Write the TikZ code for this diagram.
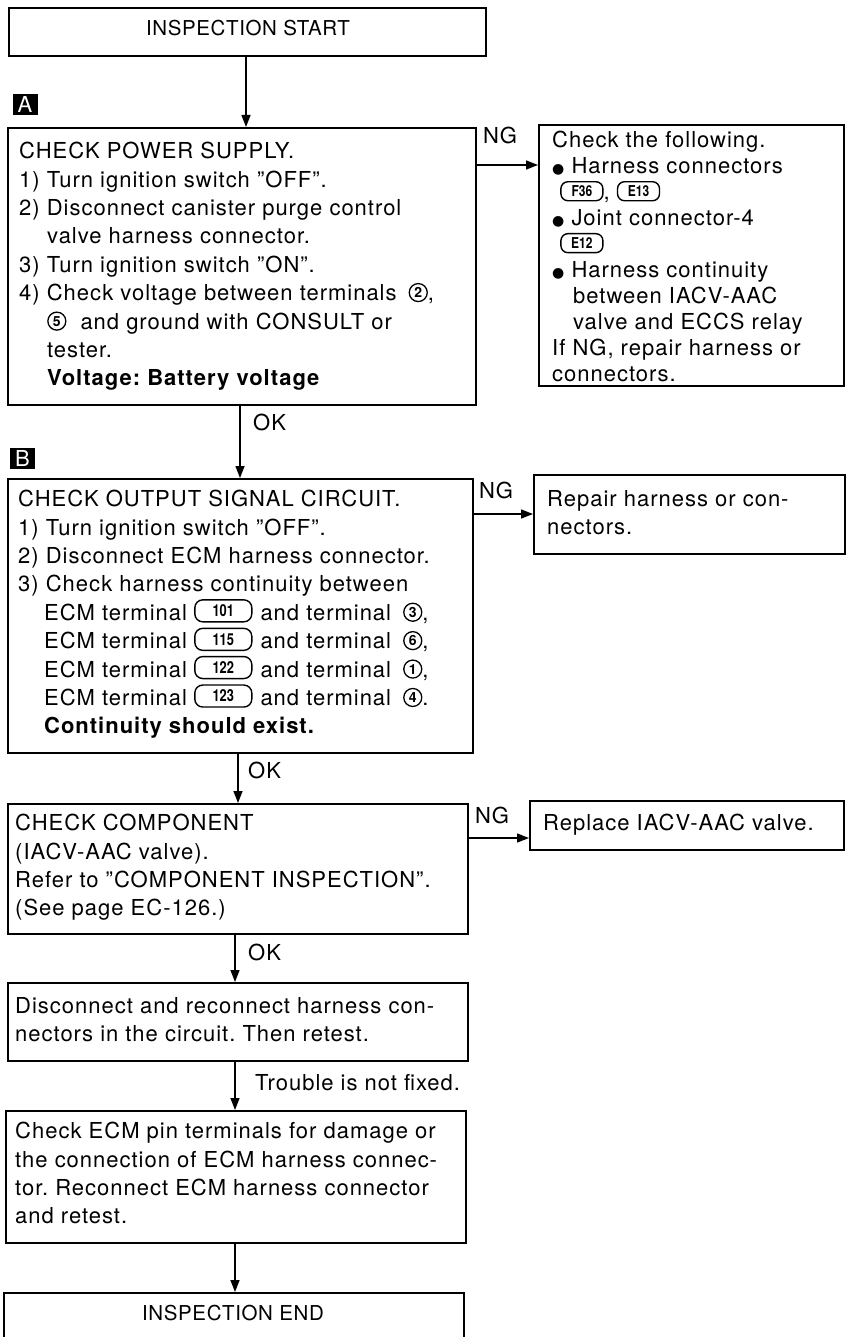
\documentclass[tikz,border=0pt]{standalone}
\usepackage{fontspec}
\usepackage{graphicx}
\setmainfont{TeX Gyre Heros}[LetterSpace=4.5]
\newfontfamily\symfont{DejaVu Sans}
\usetikzlibrary{arrows.meta}

% terminal number in a rounded pill (ECM pins)
\newcommand\pinpill[1]{\tikz[baseline={([yshift=-3.5pt]pp.base)}]\node[draw,line width=1.4pt,rounded corners=8pt,minimum width=57pt,minimum height=22pt,inner sep=0pt,font=\bfseries\fontsize{16.5}{16.5}\selectfont\addfontfeature{LetterSpace=0}] (pp) {\scalebox{0.78}[1]{#1}};}
% harness connector code in a rounded pill
\newcommand\conpill[1]{\tikz[baseline={([yshift=-3pt]cp.base)}]\node[draw,line width=1.4pt,rounded corners=7pt,minimum width=42pt,minimum height=19pt,inner sep=0pt,font=\bfseries\fontsize{15}{15}\selectfont\addfontfeature{LetterSpace=0}] (cp) {\scalebox{0.8}[1]{#1}};}
% circled terminal number
\newcommand\circnum[1]{\tikz[baseline={([yshift=-3pt]cn.base)}]\node[draw,circle,line width=1.3pt,inner sep=0pt,minimum size=18pt,font=\bfseries\fontsize{14}{14}\selectfont\addfontfeature{LetterSpace=0}] (cn) {#1};}
% list bullet
\newcommand\blt{{\symfont\fontsize{14}{14}\selectfont ●}\ }

\tikzset{
  frame/.style={draw, line width=1.8pt, anchor=north west, inner sep=0pt},
  conn/.style={line width=1.4pt, -{Triangle[length=12pt,width=9pt]}},
  body/.style={anchor=north west, inner sep=0pt, align=left, font=\fontsize{22}{28.4}\selectfont},
  lbl/.style={inner sep=0pt, font=\fontsize{22}{26}\selectfont},
  title/.style={inner sep=0pt, font=\fontsize{20.5}{24}\selectfont\addfontfeature{LetterSpace=3}},
  tagbox/.style={fill=black, text=white, inner sep=0pt, minimum width=25pt, minimum height=21pt, font=\fontsize{22}{22}\selectfont},
}

\begin{document}
\frenchspacing
\begin{tikzpicture}[x=1pt, y=-1pt]
\clip (0,0) rectangle (847,1337);

% ---- boxes of the main column ----
\node[frame, minimum width=477pt, minimum height=48pt] (start) at (8,7) {};
\node[title] (starttext) at (248,28) {INSPECTION START};
\node[frame, minimum width=468pt, minimum height=277pt] (boxA) at (7,127) {};
\node[frame, minimum width=465pt, minimum height=274pt] (boxB) at (7,478) {};
\node[frame, minimum width=460pt, minimum height=130pt] (boxC) at (7,803) {};
\node[frame, minimum width=460pt, minimum height=78pt] (boxD) at (7,982) {};
\node[frame, minimum width=460pt, minimum height=132pt] (boxE) at (5,1110) {};
\node[frame, minimum width=460pt, minimum height=90pt] (finish) at (3,1292) {};
\node[title] (finishtext) at (233,1313) {INSPECTION END};

% ---- NG boxes ----
\node[frame, minimum width=305pt, minimum height=261pt] (ngA) at (538,124) {};
\node[frame, minimum width=311pt, minimum height=79pt] (ngB) at (533,474) {};
\node[frame, minimum width=314pt, minimum height=49pt] (ngC) at (529,800) {};

% ---- section tags ----
\node[tagbox] (tagA) at (25,104.5) {A};
\node[tagbox] (tagB) at (22.5,458) {B};

% ---- box texts ----
\node[body] (textA) at (19,142) {CHECK POWER SUPPLY.\\
1) Turn ignition switch ''OFF''.\\
2) Disconnect canister purge control\\
\hspace*{28pt}valve harness connector.\\
3) Turn ignition switch ''ON''.\\
4) Check voltage between terminals\hspace{12pt}\circnum{2},\\
\hspace*{28pt}\circnum{5}\hspace{14pt}and ground with CONSULT or\\
\hspace*{28pt}tester.\\
\hspace*{28pt}\textbf{Voltage: Battery voltage}};

\node[body, font=\fontsize{22}{26}\selectfont] (textNGA) at (552,131) {Check the following.\\
\blt Harness connectors\\
\hspace*{8pt}\conpill{F36}, \conpill{E13}\\
\blt Joint connector-4\\
\hspace*{8pt}\conpill{E12}\\
\blt Harness continuity\\
\hspace*{21pt}between IACV-AAC\\
\hspace*{21pt}valve and ECCS relay\\
If NG, repair harness or\\
connectors.};

\node[body] (textB) at (18,490) {CHECK OUTPUT SIGNAL CIRCUIT.\\
1) Turn ignition switch ''OFF''.\\
2) Disconnect ECM harness connector.\\
3) Check harness continuity between\\
\hspace*{26pt}ECM terminal \pinpill{101}\hspace{8pt}and terminal\hspace{12pt}\circnum{3},\\
\hspace*{26pt}ECM terminal \pinpill{115}\hspace{8pt}and terminal\hspace{12pt}\circnum{6},\\
\hspace*{26pt}ECM terminal \pinpill{122}\hspace{8pt}and terminal\hspace{12pt}\circnum{1},\\
\hspace*{26pt}ECM terminal \pinpill{123}\hspace{8pt}and terminal\hspace{12pt}\circnum{4}.\\
\hspace*{26pt}\textbf{Continuity should exist.}};

\node[body] (textNGB) at (547,490) {Repair harness or con-\\
nectors.};

\node[body] (textC) at (15,814) {CHECK COMPONENT\\
(IACV-AAC valve).\\
Refer to ''COMPONENT INSPECTION''.\\
(See page EC-126.)};

\node[body] (textNGC) at (543,814) {Replace IACV-AAC valve.};

\node[body] (textD) at (15,997) {Disconnect and reconnect harness con-\\
nectors in the circuit. Then retest.};

\node[body] (textE) at (15,1122) {Check ECM pin terminals for damage or\\
the connection of ECM harness connec-\\
tor. Reconnect ECM harness connector\\
and retest.};

% ---- connector columns and rows ----
\coordinate (col1) at (246,0);
\coordinate (col2) at (240,0);
\coordinate (col3) at (238,0);
\coordinate (col4) at (235,0);
\coordinate (rowA) at (0,165);
\coordinate (rowB) at (0,514);
\coordinate (rowC) at (0,838);

% ---- main flow ----
\draw[conn] (start.south -| col1) -- (boxA.north -| col1);
\draw[conn] (boxA.south -| col2) -- (boxB.north -| col2);
\draw[conn] (boxB.south -| col3) -- (boxC.north -| col3);
\draw[conn] (boxC.south -| col4) -- (boxD.north -| col4);
\draw[conn] (boxD.south -| col4) -- (boxE.north -| col4);
\draw[conn] (boxE.south -| col4) -- (finish.north -| col4);

% ---- NG branches ----
\draw[conn] (boxA.east |- rowA) -- (ngA.west |- rowA);
\draw[conn] (boxB.east |- rowB) -- (ngB.west |- rowB);
\draw[conn] (boxC.east |- rowC) -- (ngC.west |- rowC);

% ---- branch labels ----
\node[lbl, anchor=west] (okA) at (253,422) {OK};
\node[lbl, anchor=west] (okB) at (248,770) {OK};
\node[lbl, anchor=west] (okC) at (248,952) {OK};
\node[lbl, anchor=west] (notfixed) at (255,1083) {Trouble is not fixed.};
\node[lbl] (ngtagA) at (500,135) {NG};
\node[lbl] (ngtagB) at (496,490) {NG};
\node[lbl] (ngtagC) at (492,815) {NG};
\end{tikzpicture}
\end{document}
